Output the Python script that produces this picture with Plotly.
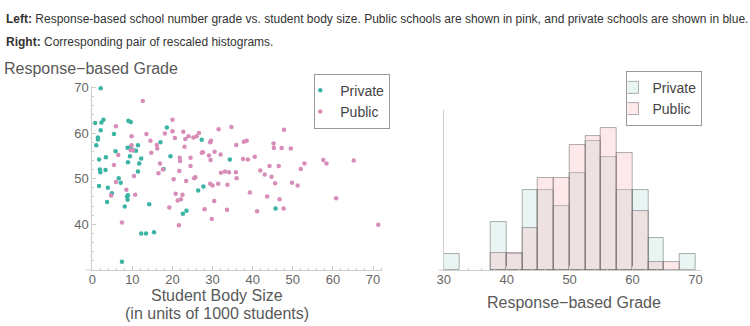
import plotly.graph_objects as go

# ---------------- data ----------------
private_size = [2.1, 0.7, 2.3, 2.8, 2.1, 1.4, 1.4, 1.0, 1.7, 1.9, 2.0, 3.3, 3.4, 5.4, 5.8,
                8.8, 9.0, 9.6, 9.4, 8.9, 9.6, 10.3, 10.9, 11.4, 11.7, 11.4, 12.2, 6.6, 7.1,
                17.0, 18.6, 19.5, 17.8, 27.3, 34.3, 1.7, 3.9, 4.9, 3.7, 8.7, 8.9, 8.8, 8.1,
                14.2, 12.2, 13.4, 15.4, 7.4, 26.4, 27.7, 23.5, 22.6, 45.7]
private_grade = [69.8, 62.2, 62.3, 62.9, 60.6, 59.0, 58.6, 57.3, 54.2, 52.0, 51.4, 51.9, 54.7, 59.8, 56.0,
                 56.8, 62.7, 62.4, 54.9, 53.6, 57.0, 56.2, 56.1, 57.3, 53.3, 51.6, 54.4, 50.1, 49.1,
                 58.0, 61.2, 54.9, 52.1, 58.5, 54.2, 48.4, 48.0, 46.8, 44.9, 46.1, 46.4, 45.4, 43.9,
                 44.4, 38.0, 38.0, 38.3, 31.8, 47.4, 48.3, 43.0, 42.3, 43.5]

public_size = [12.6, 5.9, 9.8, 9.8, 9.6, 10.1, 6.5, 5.4, 10.4, 5.9, 13.5, 14.5, 14.7, 16.1, 16.2,
               16.5, 16.9, 17.6, 18.1, 20.0, 20.0, 20.6, 20.3, 21.7, 21.8, 21.9, 22.7, 23.0, 23.2,
               23.4, 24.0, 24.5, 24.5, 25.2, 25.4, 25.7, 26.0, 26.6, 27.3, 27.6, 29.1, 29.4, 29.5,
               29.6, 30.5, 31.5, 32.0, 32.1, 33.1, 34.1, 34.7, 35.8, 35.9, 36.0, 37.6, 37.8, 38.5,
               38.8, 40.5, 41.9, 43.0, 44.2, 45.2, 45.3, 44.7, 45.6, 46.5, 47.2, 47.8, 49.5, 49.8,
               51.2, 52.0, 52.9, 57.6, 58.4, 65.2, 4.7, 8.5, 10.7, 20.8, 22.5, 21.3, 22.1, 19.2,
               21.6, 28.0, 29.4, 30.0, 30.4, 29.8, 31.4, 33.7, 33.6, 39.3, 41.1, 43.6, 46.7, 47.7,
               7.4, 60.8, 71.3]
public_grade = [67.0, 61.5, 59.3, 57.3, 56.2, 56.2, 55.2, 53.0, 50.6, 49.3, 59.8, 58.3, 55.7, 57.4, 56.6,
                51.2, 53.3, 52.0, 59.9, 62.9, 60.4, 58.9, 49.9, 51.7, 54.6, 53.9, 60.3, 57.0, 58.7,
                49.5, 59.3, 54.6, 52.8, 59.0, 50.1, 50.3, 59.3, 60.0, 55.7, 55.8, 55.1, 58.0, 54.1,
                58.3, 55.9, 60.8, 55.3, 51.3, 51.6, 51.4, 61.3, 51.4, 57.4, 50.1, 54.3, 58.1, 58.3,
                54.2, 54.8, 51.8, 50.9, 52.8, 57.7, 56.7, 50.4, 49.0, 52.8, 56.7, 60.7, 56.6, 49.1,
                48.5, 52.1, 53.3, 54.1, 53.3, 54.0, 46.3, 47.6, 46.5, 46.7, 46.5, 45.2, 45.5, 43.7,
                39.8, 43.3, 48.9, 48.5, 45.1, 41.2, 48.9, 48.7, 43.2, 47.0, 42.9, 46.1, 45.5, 43.5,
                40.4, 45.7, 39.9]

scatter_xticks = [0, 10, 20, 30, 40, 50, 60, 70]
scatter_yticks = [40, 50, 60, 70]
hist_xticks = [30, 40, 50, 60, 70]

# ---------------- style ----------------
W, H = 750, 326
TEAL = "#3cb4a4"
PINK = "#d88db8"
AXIS = "#cccccc"
TICKTXT = "#666666"
LABEL = "#595959"
FONT = "Liberation Sans, Arial, sans-serif"


def px_x(p):
    return p / W


def px_y(p):
    return 1 - p / H


fig = go.Figure()

fig.add_trace(go.Scatter(
    x=private_size, y=private_grade, mode="markers", name="Private",
    marker=dict(color=TEAL, size=4.5, line=dict(width=0)),
    xaxis="x", yaxis="y", legend="legend", cliponaxis=False))
fig.add_trace(go.Scatter(
    x=public_size, y=public_grade, mode="markers", name="Public",
    marker=dict(color=PINK, size=4.5, line=dict(width=0)),
    xaxis="x", yaxis="y", legend="legend", cliponaxis=False))

bins = dict(start=30, end=70, size=2.5)
fig.add_trace(go.Histogram(
    x=private_grade, name="Private", xbins=bins, histnorm="probability density",
    marker=dict(color="rgba(185,225,219,0.33)", line=dict(color="rgba(80,80,80,0.45)", width=1)),
    xaxis="x2", yaxis="y2", legend="legend2"))
fig.add_trace(go.Histogram(
    x=public_grade, name="Public", xbins=bins, histnorm="probability density",
    marker=dict(color="rgba(249,185,191,0.33)", line=dict(color="rgba(80,80,80,0.45)", width=1)),
    xaxis="x2", yaxis="y2", legend="legend2"))

tickfont = dict(family=FONT, size=13, color=TICKTXT)
minor_common = dict(ticks="inside", ticklen=2, tickcolor=AXIS)
legfont = dict(family=FONT, size=14, color="#444444")

fig.update_layout(
    width=W, height=H,
    margin=dict(l=0, r=0, t=0, b=0),
    paper_bgcolor="white", plot_bgcolor="white",
    barmode="overlay", bargap=0,
    font=dict(family=FONT, color=TICKTXT),
    xaxis=dict(domain=[px_x(86.3), px_x(380)], range=[0, 72.35],
               tickvals=scatter_xticks, showgrid=False, zeroline=False,
               showline=True, linecolor=AXIS, linewidth=1,
               ticks="inside", ticklen=4, tickcolor=AXIS, tickfont=tickfont,
               ticklabelstandoff=-3,
               minor=dict(dtick=2, **minor_common), anchor="y"),
    yaxis=dict(domain=[px_y(269), px_y(81)], range=[30, 70.4],
               tickvals=scatter_yticks, showgrid=False, zeroline=False,
               showline=True, linecolor=AXIS, linewidth=1,
               ticks="inside", ticklen=4, tickcolor=AXIS, tickfont=tickfont,
               minor=dict(dtick=2, **minor_common), anchor="x"),
    xaxis2=dict(domain=[px_x(442), px_x(702)], range=[30, 70.8],
                tickvals=hist_xticks, showgrid=False, zeroline=False,
                showline=True, linecolor=AXIS, linewidth=1,
                ticks="inside", ticklen=4, tickcolor=AXIS, tickfont=tickfont,
                ticklabelstandoff=-3,
                minor=dict(dtick=2, **minor_common), anchor="y2"),
    yaxis2=dict(domain=[px_y(269), px_y(106)], range=[0, 0.075],
                showgrid=False, zeroline=False, showticklabels=False, ticks="",
                showline=True, linecolor=AXIS, linewidth=1, anchor="x2"),
    legend=dict(x=px_x(311), y=px_y(69), xanchor="left", yanchor="top",
                bgcolor="white", bordercolor="#999999", borderwidth=1,
                font=legfont, itemwidth=30, indentation=-15, tracegroupgap=0),
    legend2=dict(x=px_x(627), y=px_y(66), xanchor="left", yanchor="top",
                 bgcolor="white", bordercolor="#999999", borderwidth=1,
                 font=legfont, itemwidth=30, indentation=-15, tracegroupgap=0),
    showlegend=True,
)

# short extensions of the bottom axis lines to the left of the vertical axes
fig.add_shape(type="line", xref="paper", yref="paper",
              x0=px_x(80), x1=px_x(86.3), y0=px_y(269), y1=px_y(269),
              line=dict(color=AXIS, width=1))
fig.add_shape(type="line", xref="paper", yref="paper",
              x0=px_x(437), x1=px_x(442), y0=px_y(269), y1=px_y(269),
              line=dict(color=AXIS, width=1))

ann = []
hdr = dict(family=FONT, size=12, color="#333333")
ann.append(dict(text="<b>Left:</b> Response-based school number grade vs. student body size. "
                     "Public schools are shown in pink, and private schools are shown in blue.",
                x=px_x(-3), y=px_y(13), xanchor="left", yanchor="middle", font=hdr))
ann.append(dict(text="<b>Right:</b> Corresponding pair of rescaled histograms.",
                x=px_x(-3), y=px_y(37), xanchor="left", yanchor="middle", font=hdr))
lab = dict(family=FONT, size=16, color=LABEL)
ann.append(dict(text="Response\u2212based Grade", x=px_x(-5), y=px_y(64),
                xanchor="left", yanchor="middle", font=lab))
ann.append(dict(text="Student Body Size", x=px_x(213), y=px_y(295),
                xanchor="center", yanchor="middle", font=lab))
ann.append(dict(text="(in units of 1000 students)", x=px_x(213), y=px_y(313),
                xanchor="center", yanchor="middle", font=lab))
ann.append(dict(text="Response\u2212based Grade", x=px_x(574), y=px_y(302),
                xanchor="center", yanchor="middle", font=lab))
for a in ann:
    a.update(xref="paper", yref="paper", showarrow=False)
fig.update_layout(annotations=ann)

fig.write_html("out.html")
